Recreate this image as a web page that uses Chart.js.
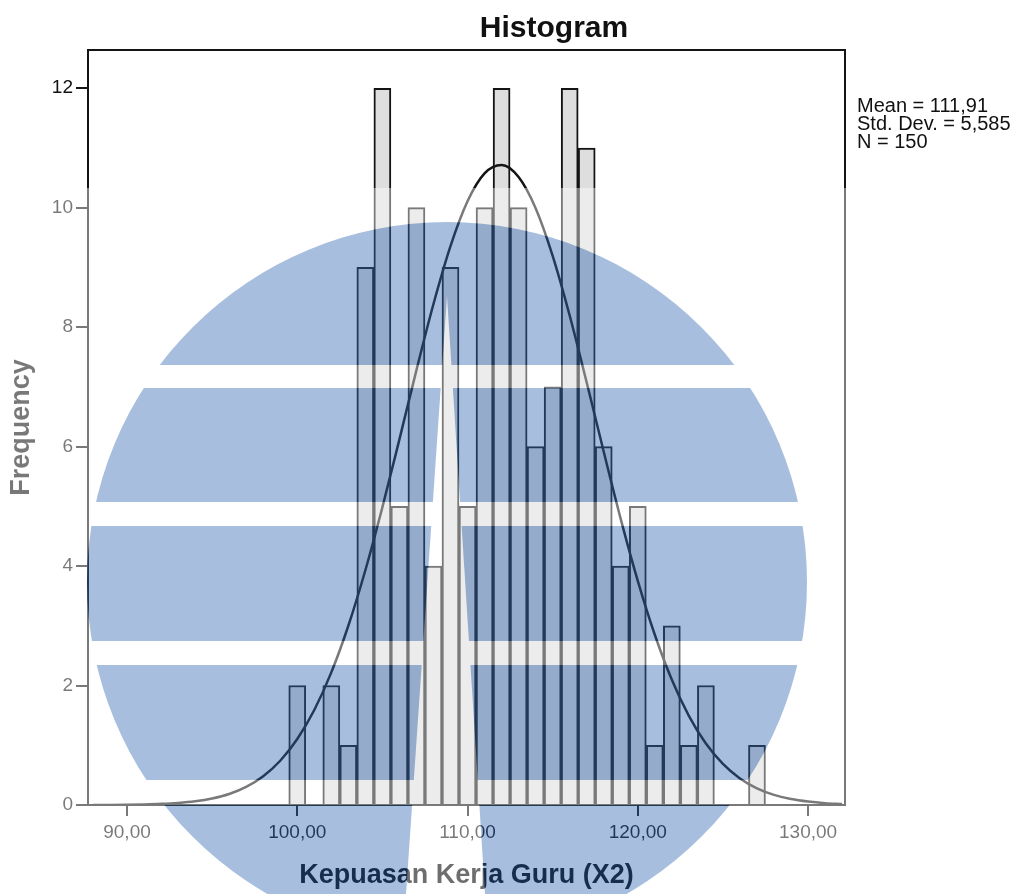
<!DOCTYPE html>
<html>
<head>
<meta charset="utf-8">
<script src="https://cdn.jsdelivr.net/npm/chart.js@4.4.0/dist/chart.umd.min.js"></script>
<style>
html,body{margin:0;padding:0;background:#fff;overflow:hidden}
#wrap{position:relative;width:1016px;height:894px}
</style>
</head>
<body>
<div id="wrap"><canvas id="c"></canvas></div>
<script>
// ---- data ----
const binCenters = [100,101,102,103,104,105,106,107,108,109,110,111,112,113,114,115,116,117,118,119,120,121,122,123,124,125,126,127];
const frequencies = [2,0,2,1,9,12,5,10,4,9,5,10,12,10,6,7,12,11,6,4,5,1,3,1,2,0,0,1];
// normal curve (Mean 111,91 ; SD 5,585 ; N 150), read at integer points
const curveX = [88,89,90,91,92,93,94,95,96,97,98,99,100,101,102,103,104,105,106,107,108,109,110,111,112,113,114,115,116,117,118,119,120,121,122,123,124,125,126,127,128,129,130,131,132];
const curveY = [0.001,0.002,0.005,0.010,0.019,0.035,0.063,0.110,0.185,0.304,0.482,0.741,1.104,1.590,2.220,3.001,3.930,4.985,6.122,7.281,8.387,9.356,10.107,10.574,10.714,10.513,9.991,9.194,8.195,7.073,5.913,4.787,3.753,2.850,2.096,1.493,1.029,0.688,0.445,0.279,0.169,0.099,0.057,0.031,0.017];
const xTickValues = [90,100,110,120,130];
const xTickLabels = ['90,00','100,00','110,00','120,00','130,00'];
const yTickValues = [0,2,4,6,8,10,12];
const yTickLabels = ['0','2','4','6','8','10','12'];
const chartTitle = 'Histogram';
const xTitle = 'Kepuasan Kerja Guru (X2)';
const yTitle = 'Frequency';
const statsLines = ['Mean = 111,91','Std. Dev. = 5,585','N = 150'];

const FONT = '"Liberation Sans", Arial, sans-serif';
const INK = '#141414';

const barData = binCenters.map((x,i)=>({x:x, y:frequencies[i]}));
const curveData = curveX.map((x,i)=>({x:x, y:curveY[i]}));

const frameAndText = {
  id:'frameAndText',
  afterDraw(chart){
    const ctx = chart.ctx, a = chart.chartArea;
    ctx.save();
    ctx.strokeStyle = INK; ctx.lineWidth = 2;
    ctx.beginPath();
    ctx.moveTo(a.left, a.top); ctx.lineTo(a.right, a.top); ctx.lineTo(a.right, a.bottom);
    ctx.stroke();
    ctx.fillStyle = '#111';
    ctx.font = 'bold 30px ' + FONT;
    ctx.textAlign = 'center'; ctx.textBaseline = 'alphabetic';
    ctx.fillText(chartTitle, 554, 37);
    ctx.font = '20px ' + FONT;
    ctx.textAlign = 'left';
    statsLines.forEach((t,i)=>ctx.fillText(t, a.right + 12, 112 + i*18));
    ctx.restore();
  }
};

const watermark = {
  id:'watermark',
  afterDraw(chart){
    const W = chart.width, H = chart.height;
    const off = document.createElement('canvas');
    off.width = W; off.height = H;
    const o = off.getContext('2d');
    o.fillStyle = '#fff'; o.fillRect(0,188,W,H-188);
    o.fillStyle = 'rgb(55,106,179)';
    o.beginPath(); o.arc(447,582,360,0,Math.PI*2); o.fill();
    o.fillStyle = '#fff';
    [[365,388],[502,526],[641,665],[780,805]].forEach(([t,b])=>o.fillRect(0,t,W,b-t));
    o.beginPath(); o.moveTo(447,296); o.lineTo(485,894); o.lineTo(406,894); o.closePath(); o.fill();
    const ctx = chart.ctx;
    ctx.save(); ctx.globalAlpha = 0.43; ctx.drawImage(off,0,0); ctx.restore();
  }
};

new Chart(document.getElementById('c'), {
  data:{
    datasets:[
      {type:'line', data:curveData, borderColor:INK, borderWidth:2.5, pointRadius:0,
       cubicInterpolationMode:'monotone', fill:false, order:0},
      {type:'bar', data:barData, backgroundColor:'#dedede', borderColor:INK, borderWidth:2,
       barPercentage:1, categoryPercentage:1, order:1}
    ]
  },
  options:{
    responsive:true, maintainAspectRatio:false, animation:false,
    layout:{padding:{top:50,right:171,bottom:0,left:0}},
    plugins:{legend:{display:false}, tooltip:{enabled:false}, title:{display:false}},
    scales:{
      x:{
        type:'linear', position:'bottom', min:87.71, max:132.17, offset:false,
        afterBuildTicks:s=>{ s.ticks = xTickValues.map(v=>({value:v})); },
        afterFit:s=>{ s.height = 89; },
        grid:{display:true, offset:false, drawOnChartArea:false, drawTicks:true, tickLength:11, color:INK, lineWidth:2},
        border:{display:true, color:INK, width:2},
        ticks:{autoSkip:false, maxRotation:0, padding:5, color:'#111', font:{family:FONT, size:19},
          callback:(v)=>{ const i = xTickValues.indexOf(v); return i>=0 ? xTickLabels[i] : ''; }},
        title:{display:true, text:xTitle, color:'#000', font:{family:FONT, size:27, weight:'bold'}, padding:{top:0,bottom:2}}
      },
      y:{
        type:'linear', position:'left', min:0, max:12.64,
        afterBuildTicks:s=>{ s.ticks = yTickValues.map(v=>({value:v})); },
        afterFit:s=>{ s.width = 88; },
        grid:{display:true, drawOnChartArea:false, drawTicks:true, tickLength:12, color:INK, lineWidth:2},
        border:{display:true, color:INK, width:2},
        ticks:{padding:3, color:'#111', font:{family:FONT, size:19},
          callback:(v)=>{ const i = yTickValues.indexOf(v); return i>=0 ? yTickLabels[i] : ''; }},
        title:{display:true, text:yTitle, color:'#111', font:{family:FONT, size:27, weight:'bold'}, padding:{top:5,bottom:0}}
      }
    }
  },
  plugins:[frameAndText, watermark]
});
</script>
</body>
</html>
